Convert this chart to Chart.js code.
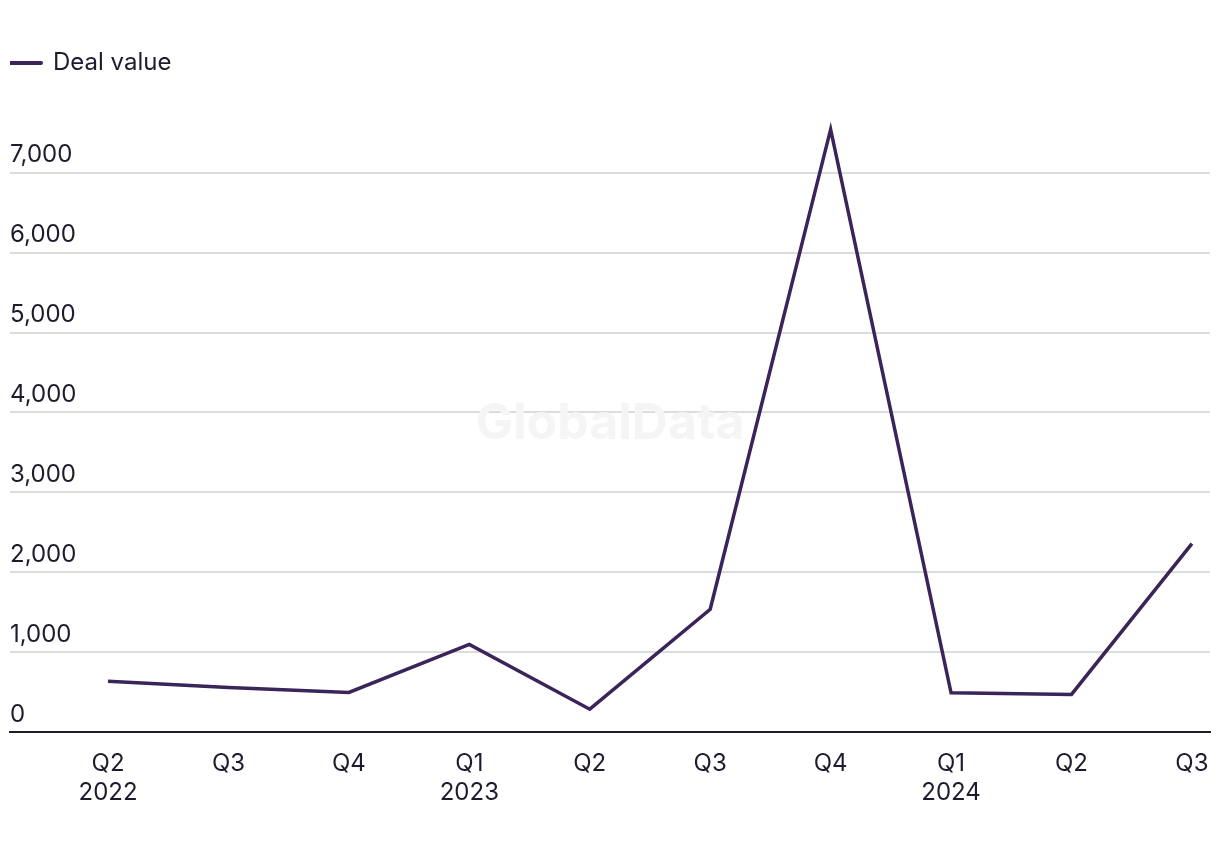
<!DOCTYPE html>
<html>
<head>
<meta charset="utf-8">
<script src="https://cdn.jsdelivr.net/npm/chart.js"></script>
<style>
  html, body { margin: 0; padding: 0; background: #fff; }
  #wrap { width: 1220px; height: 850px; }
</style>
</head>
<body>
<div id="wrap"><canvas id="chart"></canvas></div>
<script>
// chart data
const quarters = ["Q2", "Q3", "Q4", "Q1", "Q2", "Q3", "Q4", "Q1", "Q2", "Q3"];
const years = ["2022", "", "", "2023", "", "", "", "2024", "", ""];
const dealValues = [640, 560, 500, 1100, 290, 1540, 7540, 495, 475, 2360];
const yTicks = [0, 1000, 2000, 3000, 4000, 5000, 6000, 7000];

const lineColor = "#3b2459";
const textColor = "#1c1c2e";
const fontFamily = "Inter, 'Liberation Sans', Arial, sans-serif";

// faint watermark behind the line
const watermark = {
    id: "watermark",
    beforeDatasetsDraw(chart) {
        const { ctx } = chart;
        ctx.save();
        ctx.font = "bold 50px " + fontFamily;
        ctx.fillStyle = "#f5f5f5";
        ctx.textAlign = "center";
        ctx.textBaseline = "middle";
        ctx.fillText("GlobalData", 610, 424);
        ctx.restore();
    }
};

new Chart(document.getElementById("chart").getContext("2d"), {
    type: "line",
    data: {
        datasets: [{
            label: "Deal value",
            data: dealValues.map((v, i) => ({ x: i, y: v })),
            borderColor: lineColor,
            backgroundColor: lineColor,
            borderWidth: 3.5,
            pointRadius: 0,
            tension: 0
        }]
    },
    options: {
        responsive: true,
        maintainAspectRatio: false,
        animation: false,
        layout: { padding: { left: 10, right: 10, top: 51, bottom: 40 } },
        plugins: {
            tooltip: { enabled: false },
            legend: {
                position: "top",
                align: "start",
                labels: {
                    usePointStyle: true,
                    pointStyle: "line",
                    pointStyleWidth: 31,
                    padding: 0,
                    color: textColor,
                    font: { family: fontFamily, size: 24 },
                    generateLabels(chart) {
                        const items = Chart.defaults.plugins.legend.labels.generateLabels(chart);
                        items.forEach(it => { it.lineWidth = 4; it.lineCap = "round"; });
                        return items;
                    }
                }
            }
        },
        scales: {
            x: {
                type: "linear",
                min: -0.814,
                max: 9.15,
                afterBuildTicks: scale => {
                    scale.ticks = quarters.map((q, i) => ({ value: i }));
                },
                grid: {
                    display: true,
                    drawOnChartArea: false,
                    drawTicks: true,
                    tickLength: 14,
                    color: "transparent",
                    tickColor: "transparent"
                },
                border: { display: true, color: textColor, width: 2 },
                ticks: {
                    padding: 3,
                    maxRotation: 0,
                    autoSkip: false,
                    color: textColor,
                    font: { family: fontFamily, size: 24, lineHeight: 1.2 },
                    callback: value => years[value] ? [quarters[value], years[value]] : quarters[value]
                }
            },
            y: {
                min: 0,
                max: 8095,
                afterBuildTicks: scale => {
                    scale.ticks = yTicks.map(v => ({ value: v }));
                },
                grid: { color: "#dcdcdc", lineWidth: 2, drawTicks: false },
                border: { display: false },
                ticks: {
                    mirror: true,
                    padding: 0,
                    labelOffset: -18,
                    color: textColor,
                    font: { family: fontFamily, size: 24 },
                    callback: value => value.toLocaleString("en-US")
                }
            }
        }
    },
    plugins: [watermark]
});
</script>
</body>
</html>
